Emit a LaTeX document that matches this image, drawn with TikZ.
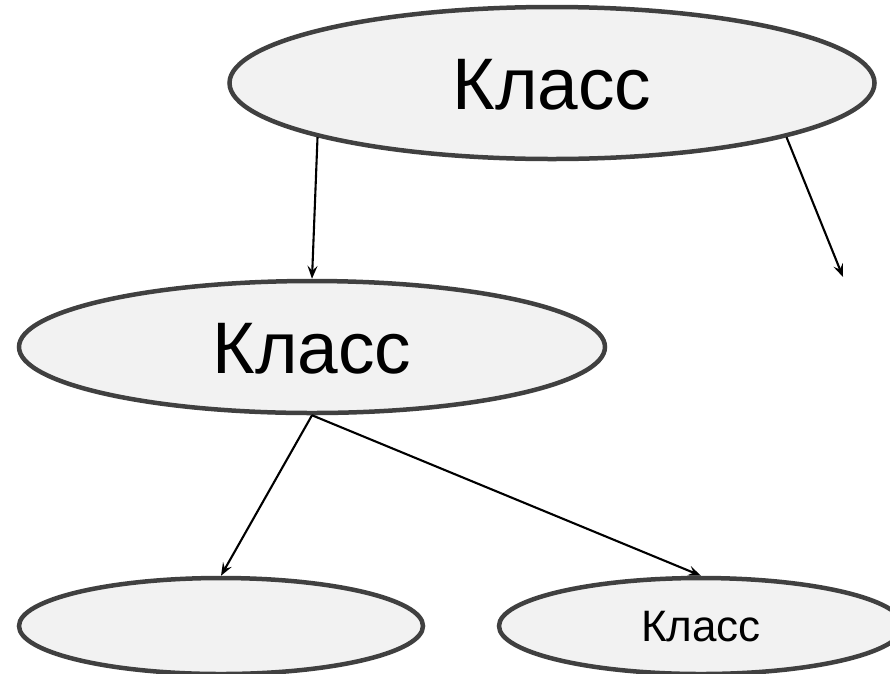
\documentclass[tikz,border=0pt]{standalone}
\usepackage{fontspec}
\setmainfont{Liberation Sans}
\usetikzlibrary{shapes.geometric,arrows.meta}
\definecolor{edgegray}{HTML}{404040}
\definecolor{fillgray}{HTML}{F2F2F2}
\begin{document}
\begin{tikzpicture}[x=1pt,y=-1pt,
  classbox/.style={ellipse,draw=edgegray,fill=fillgray,line width=4.5pt,inner sep=0pt,text depth=0pt},
  bigtext/.style={font=\fontsize{73}{73}\selectfont,text height=52pt},
  smalltext/.style={font=\fontsize{44}{44}\selectfont,text height=31.5pt},
  link/.style={line width=2.1pt,-{Stealth[length=13pt,width=10pt,inset=5pt]}}]
\useasboundingbox (0,0) rectangle (890,673);
\node[classbox,bigtext,minimum width=645pt,minimum height=152pt] (top) at (552,83) {Класс};
\node[classbox,bigtext,minimum width=586pt,minimum height=132pt] (mid) at (312,347) {Класс};
\node[classbox,minimum width=404pt,minimum height=96pt] (bl) at (221,626) {};
\node[classbox,smalltext,minimum width=404pt,minimum height=96pt] (br) at (701,626) {Класс};
\coordinate (free) at (843,277);
\draw[link] (top.193.6) -- (mid.north);
\draw[link] (top.-13.3) -- (free);
\draw[link] (mid.south) -- (bl.north);
\draw[link] (mid.south) -- (br.north);
\end{tikzpicture}
\end{document}
